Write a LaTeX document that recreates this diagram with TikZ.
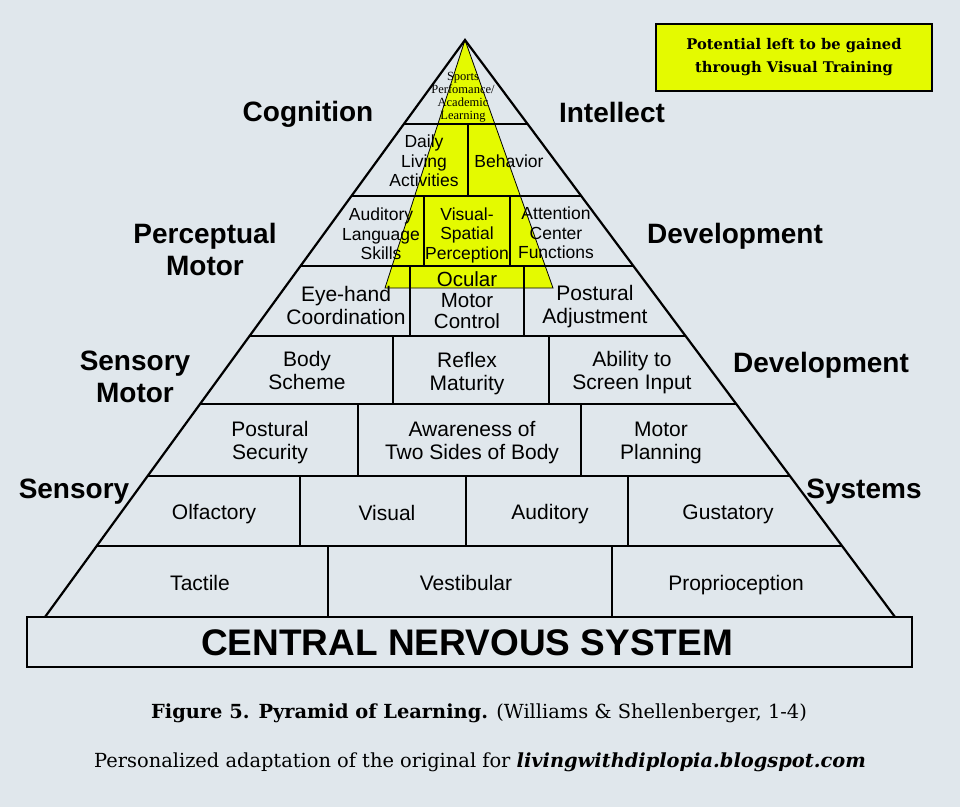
\documentclass[tikz,border=0pt]{standalone}
\usepackage{fontspec}
\setmainfont{Liberation Sans}
\newfontfamily\slabfont{DejaVu Serif}
\newfontfamily\smallserif{Liberation Serif}
\usetikzlibrary{positioning, calc}
\definecolor{paper}{RGB}{224,231,236}
\definecolor{gain}{RGB}{228,250,0}

\begin{document}
\begin{tikzpicture}[x=1pt, y=-1pt,
		cell/.style={font=\fontsize{21}{23}\selectfont, align=center, inner sep=0pt},
		smallcell/.style={font=\fontsize{17.5}{19.5}\selectfont, align=center, inner sep=0pt},
		side/.style={font=\bfseries\fontsize{28}{32}\selectfont, align=center, inner sep=0pt},
		rowline/.style={line width=1.8pt},
		mainline/.style={line width=2.8pt}]
		
		\fill[paper] (0,0) rectangle (960,807);
		\useasboundingbox (0,0) rectangle (960,807);
		
		\coordinate (apex) at (465,40);
		\coordinate (bl) at (45,617);
		\coordinate (br) at (895,617);
		\coordinate (gl) at (385,288);
		\coordinate (gr) at (553,288);
		
		% potential still to gain
		\fill[gain] (apex) -- (gl) -- (gr) -- cycle;
		
		\begin{scope}
			\clip (apex) -- (bl) -- (br) -- cycle;
			\foreach \y in {124,266,404,546} \draw[rowline] (0,\y) -- (960,\y);
			\foreach \y in {196,336,476} \draw[mainline] (0,\y) -- (960,\y);
		\end{scope}
		\foreach \x/\ya/\yb in {468/124/196, 424/196/266, 510/196/266, 410/266/336, 524/266/336,
			393/336/404, 549/336/404, 358/404/476, 581/404/476,
			300/476/546, 466/476/546, 628/476/546, 328/546/617, 612/546/617}
			\draw[rowline] (\x,\ya) -- (\x,\yb);
		
		\draw[line width=0.8pt] (apex) -- (gl) -- (gr) -- cycle;
		\draw[line width=2.2pt] (bl) -- (apex) -- (br);
		\draw[rowline] (27,617) rectangle (912,667);
		
		\node[font=\smallserif\fontsize{12.5}{13}\selectfont, align=center, inner sep=0pt] (sports) at (463,97) {Sports\\Perfomance/\\Academic\\Learning};
		
		\node[smallcell] (daily) at (424,161) {Daily\\Living\\Activities};
		\node[smallcell] (behavior) at (509,161) {Behavior};
		\node[smallcell] (auditory language) at (381,234) {Auditory\\Language\\Skills};
		\node[smallcell] (visual spatial) at (467,235) {Visual-\\Spatial\\Perception};
		\node[smallcell] (attention) at (556,233) {Attention\\Center\\Functions};
		
		\node[cell] (eye hand) at (346,305) {Eye-hand\\Coordination};
		\node[cell, font=\fontsize{20.5}{21}\selectfont] (ocular) at (467,300) {Ocular\\Motor\\Control};
		\node[cell] (postural adjustment) at (595,307) {Postural\\Adjustment};
		\node[cell] (body) at (307,370) {Body\\Scheme};
		\node[cell] (reflex) at (467,374) {Reflex\\Maturity};
		\node[cell] (screen) at (632,373) {Ability to\\Screen Input};
		\node[cell] (postural security) at (270,443) {Postural\\Security};
		\node[cell] (two sides) at (472,443) {Awareness of\\Two Sides of Body};
		\node[cell] (planning) at (661,443) {Motor\\Planning};
		\node[cell] (olfactory) at (214,514) {Olfactory};
		\node[cell] (visual) at (387,513) {Visual};
		\node[cell] (auditory) at (550,514) {Auditory};
		\node[cell] (gustatory) at (728,514) {Gustatory};
		\node[cell] (tactile) at (200,583) {Tactile};
		\node[cell] (vestibular) at (466,583) {Vestibular};
		\node[cell] (proprioception) at (736,585) {Proprioception};
		\node[font=\bfseries\fontsize{37}{40}\selectfont, inner sep=0pt] (cns) at (467,643) {CENTRAL NERVOUS SYSTEM};
		
		\node[side] (cognition) at (308,114) {Cognition};
		\node[side] (intellect) at (612,112) {Intellect};
		\node[side] (perceptual motor) at (205,249) {Perceptual\\Motor};
		\node[side] (development top) at (735,236) {Development};
		\node[side] (sensory motor) at (135,377) {Sensory\\Motor};
		\node[side] (development low) at (821,365) {Development};
		\node[side] (sensory) at (74,492) {Sensory};
		\node[side] (systems) at (864,492) {Systems};
		
		\node[draw, fill=gain, line width=1.2pt, minimum width=276pt, minimum height=67pt, align=center,
			font=\slabfont\bfseries\fontsize{14.7}{23}\selectfont] (legend) at (794,57.5) {Potential left to be gained\\through Visual Training};
		
		\node[font=\slabfont\fontsize{19.4}{22}\selectfont, inner sep=0pt] (caption) at (479,713) {\textbf{Figure 5. Pyramid of Learning.} (Williams \& Shellenberger, 1-4)};
		\node[font=\slabfont\fontsize{19.4}{22}\selectfont, inner sep=0pt] (credit) at (480,762) {Personalized adaptation of the original for \textbf{\itshape livingwithdiplopia.blogspot.com}};
		
\end{tikzpicture}
\end{document}
